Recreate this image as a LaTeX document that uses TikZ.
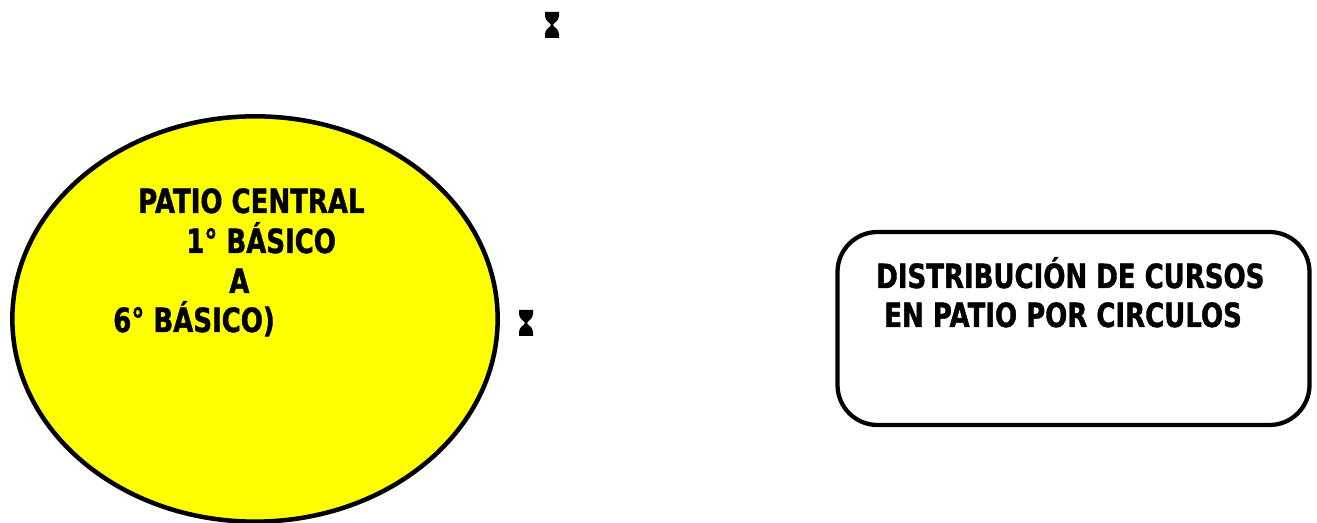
\documentclass[tikz,border=0pt]{standalone}
\usepackage{fontspec}
\newfontfamily\tfont[FakeStretch=0.78,FakeBold=1.2]{DejaVu Sans}
\usetikzlibrary{shapes.geometric}
\definecolor{patioyellow}{RGB}{255,255,0}
\tikzset{
  lbl/.style={anchor=base west, inner sep=0pt, font=\tfont\bfseries\fontsize{25}{29}\selectfont},
  hglass/.pic={
    \fill[black] (-7,-13) -- (7,-13) -- (7,-9) .. controls (7,-4) and (1.5,-2) .. (1,0)
      .. controls (1.5,2) and (7,4) .. (7,9) -- (7,13) -- (-7,13) -- (-7,9)
      .. controls (-7,4) and (-1.5,2) .. (-1,0) .. controls (-1.5,-2) and (-7,-4) .. (-7,-9) -- cycle;
  }
}
\begin{document}
\begin{tikzpicture}[x=0.75pt, y=-0.75pt]
\useasboundingbox (0,0) rectangle (1317,523);
\node[ellipse, draw=black, fill=patioyellow, line width=3.4pt, minimum width=364pt, minimum height=304pt, inner sep=0pt] (patio) at (255,319) {};
\node[lbl] (t1) at (138,213) {PATIO CENTRAL};
\node[lbl] (t2) at (186,253) {1° BÁSICO};
\node[lbl] (t3) at (229,293) {A};
\node[lbl] (t4) at (113,332) {6° BÁSICO)};
\node[draw=black, line width=3.2pt, rounded corners=30pt, minimum width=354pt, minimum height=144.75pt, inner sep=0pt] (box) at (1073.5,328.5) {};
\node[lbl] (b1) at (876,288) {DISTRIBUCIÓN DE CURSOS};
\node[lbl] (b2) at (884,327) {EN PATIO POR CIRCULOS};
\pic at (552,25) {hglass};
\pic at (526,323) {hglass};
\end{tikzpicture}
\end{document}
